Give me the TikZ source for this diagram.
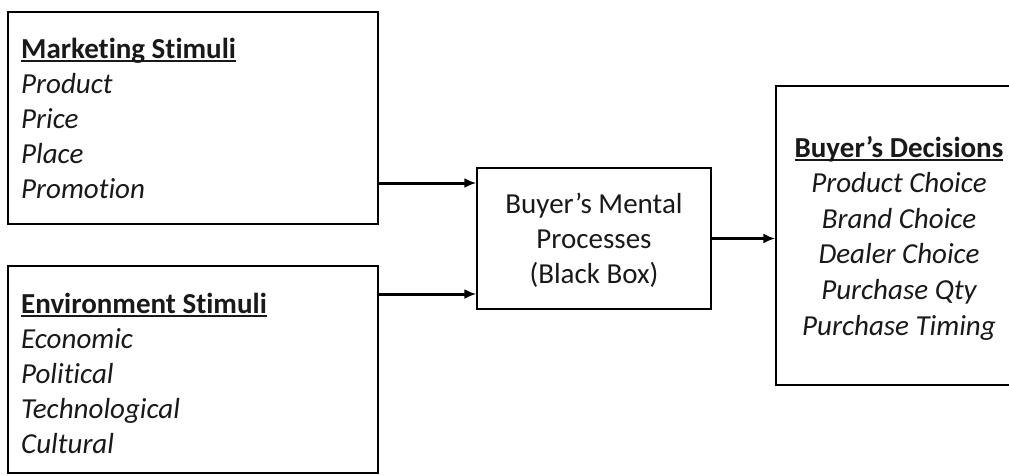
\documentclass[tikz,border=0pt]{standalone}
\usepackage{fontspec}
\setmainfont{Carlito}[Ligatures=NoCommon]
\usetikzlibrary{arrows.meta}
% underline drawn just below the baseline, crossing descenders
\newcommand\headul[1]{\setbox0\hbox{#1}\rlap{\rule[-3.5pt]{\wd0}{1.6pt}}\box0}
\begin{document}
\begin{tikzpicture}[x=1pt,y=-1pt,
  box/.style={draw=black,line width=1.4pt,rectangle,inner sep=0pt},
  txt/.style={font=\fontsize{29}{35}\selectfont,inner sep=0pt,text=black!90},
  itm/.style={txt,font=\fontsize{29}{35}\selectfont\itshape},
  conn/.style={line width=3pt,-{Latex[length=12pt,width=10pt]}}]
\useasboundingbox[fill=white] (0,0) rectangle (1009,475);

% boxes
\node[box,minimum width=370pt,minimum height=212pt] (ms) at (193,118) {};
\node[box,minimum width=370pt,minimum height=207pt] (es) at (193,369.5) {};
\node[box,minimum width=234pt,minimum height=141pt] (bb) at (594,238.5) {};
\node[box,minimum width=236pt,minimum height=299pt] (bd) at (894,235.5) {};

% marketing stimuli
\node[txt,anchor=base west] (mst) at (21,58) {\headul{\bfseries Marketing Stimuli}};
\foreach \t [count=\i] in {Product,Price,Place,Promotion}
  \node[itm,anchor=base west] (ms\i) at (21,{58+35*\i}) {\t};

% environment stimuli
\node[txt,anchor=base west] (est) at (21,313) {\headul{\bfseries Environment Stimuli}};
\foreach \t [count=\i] in {Economic,Political,Technological,Cultural}
  \node[itm,anchor=base west] (es\i) at (21,{313+35*\i}) {\t};

% black box
\node[txt,anchor=base] (bb1) at (594,213) {Buyer’s Mental};
\node[txt,anchor=base] (bb2) at (594,248) {Processes};
\node[txt,anchor=base] (bb3) at (594,283) {(Black Box)};

% buyer's decisions
\node[txt,anchor=base] (bdt) at (899,157) {\headul{\bfseries Buyer’s Decisions}};
\foreach \t [count=\i] in {Product Choice,Brand Choice,Dealer Choice,Purchase Qty,Purchase Timing}
  \node[itm,anchor=base] (bd\i) at (899,{157+35.6*\i}) {\t};

% connectors
\coordinate (ya) at (0,183);
\coordinate (yb) at (0,294);
\draw[conn] (ms.east |- ya) -- (bb.west |- ya);
\draw[conn] (es.east |- yb) -- (bb.west |- yb);
\draw[conn] (bb.east) -- (bd.west |- bb.east);
\end{tikzpicture}
\end{document}
